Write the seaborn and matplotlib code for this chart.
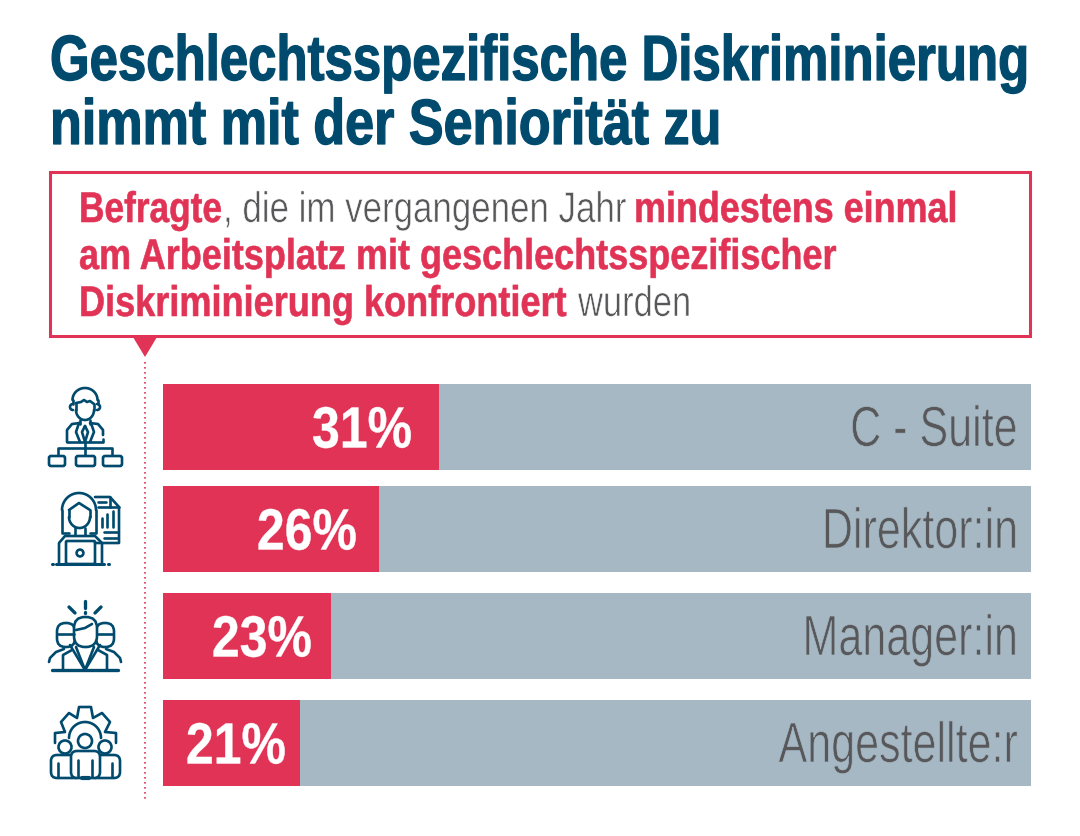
import seaborn as sns
import matplotlib.pyplot as plt
import numpy as np
import pandas as pd
from matplotlib.patches import Polygon, Rectangle, Circle, FancyBboxPatch
from matplotlib.patheffects import AbstractPathEffect
from matplotlib.transforms import Affine2D

# Bar lengths are measured off the picture: they are not to scale with the printed labels
roles = ["C - Suite", "Direktor:in", "Manager:in", "Angestellte:r"]
bar_lengths = [31.85, 24.9, 19.35, 15.8]
value_labels = ["31%", "26%", "23%", "21%"]
track = [100, 100, 100, 100]

title_lines = ["Geschlechtsspezifische Diskriminierung", "nimmt mit der Seniorität zu"]
box_line1 = ["Befragte", ", die im vergangenen Jahr", "mindestens einmal"]
box_line2 = ["am Arbeitsplatz mit geschlechtsspezifischer"]
box_line3 = ["Diskriminierung konfrontiert", "wurden"]

RED = "#e03355"
GREY = "#a5b8c4"
NAVY = "#004a6e"
TEXT = "#58585a"
CAP = 0.688  # cap height of Liberation Sans, per em

sns.set_theme(style="white")
plt.rcParams["font.family"] = ["Liberation Sans", "DejaVu Sans"]

W, H = 1080, 836
fig = plt.figure(figsize=(W / 100, H / 100), dpi=100, facecolor="white")


class Tall(AbstractPathEffect):
    """Stretch glyphs up from the baseline, the fonts here are wider than the original condensed one.
    An outline in the background colour makes the weight lighter, in the text colour heavier."""

    def __init__(self, ky, edge=0, edge_color="white"):
        super().__init__()
        self.ky, self.edge, self.edge_color = ky, edge, edge_color

    def draw_path(self, renderer, gc, tpath, affine, rgbFace=None):
        trans = Affine2D().scale(1, self.ky) + affine
        renderer.draw_path(gc, tpath, trans, rgbFace)
        if self.edge:
            gc0 = renderer.new_gc()
            gc0.copy_properties(gc)
            gc0.set_linewidth(self.edge)
            gc0.set_foreground(self.edge_color)
            renderer.draw_path(gc0, tpath, trans, None)
            gc0.restore()


# overlay in pixels for everything around the bars
ov = fig.add_axes([0, 0, 1, 1], zorder=3)
ov.set_xlim(0, W)
ov.set_ylim(H, 0)
ov.axis("off")
ov.patch.set_alpha(0)
renderer = fig.canvas.get_renderer()


def put(x, base, s, color, size, cap_px, bold=False, ha="left", edge=0, edge_color="white"):
    ky = cap_px / (CAP * size * 100 / 72)
    t = ov.text(x, base, s, color=color, fontsize=size, ha=ha, va="baseline",
                fontweight="bold" if bold else "normal")
    t.set_path_effects([Tall(ky, edge, edge_color)])
    return t


def fit(x0, x1, base, s, color, cap_px, bold=False, edge=0, edge_color="white"):
    # font size that makes the run span x0..x1
    probe = ov.text(0, 0, s, fontsize=30, fontweight="bold" if bold else "normal")
    size = 30 * (x1 - x0) / probe.get_window_extent(renderer).width
    probe.remove()
    return put(x0, base, s, color, size, cap_px, bold=bold, edge=edge, edge_color=edge_color)


# bars, one axes per row because the gaps in the reference are uneven
df = pd.DataFrame({"role": roles, "length": bar_lengths, "track": track})
row_tops = [384, 486, 593, 700]
for i, top in enumerate(row_tops):
    ax = fig.add_axes([163 / W, 1 - (top + 86) / H, 867.5 / W, 86 / H])
    row = df.iloc[[i]]
    sns.barplot(row, x="track", y="role", color=GREY, saturation=1, width=1, linewidth=0, ax=ax)
    sns.barplot(row, x="length", y="role", color=RED, saturation=1, width=1, linewidth=0, ax=ax)
    ax.set_xlim(0, 100)
    ax.axis("off")

value_right = [412, 357, 312, 286]
for label, role, top, right in zip(value_labels, roles, row_tops, value_right):
    put(right, top + 63.5, label, "white", 36, 40, bold=True, ha="right", edge=0.3, edge_color="white")
    put(1017.5, top + 62, role, TEXT, 31, 39, ha="right", edge=0.5, edge_color=GREY)

# title
fit(50, 1030, 80, title_lines[0], NAVY, 44, bold=True, edge=0.9, edge_color=NAVY)
fit(50, 722, 144, title_lines[1], NAVY, 44, bold=True, edge=0.9, edge_color=NAVY)

# callout box
ov.add_patch(Rectangle((50, 172), 980, 164, fill=False, ec=RED, lw=2.2))
ov.add_patch(Polygon([[133, 337], [157, 337], [145, 357]], closed=True, fc=RED, ec="none"))
ov.plot([145, 145], [362, 802], color=RED, lw=1.2, ls=(0, (1, 2)))

fit(79, 222, 222, box_line1[0], RED, 29.5, bold=True, edge=0.4, edge_color=RED)
fit(223, 626, 222, box_line1[1], TEXT, 29.5, edge=0.4)
fit(634, 958, 222, box_line1[2], RED, 29.5, bold=True, edge=0.4, edge_color=RED)
fit(79, 837, 269, box_line2[0], RED, 29.5, bold=True, edge=0.4, edge_color=RED)
fit(79, 567, 316, box_line3[0], RED, 29.5, bold=True, edge=0.4, edge_color=RED)
fit(578, 691, 316, box_line3[1], TEXT, 29.5, edge=0.4)

LW = 1.9


def stroke(pts, lw=LW):
    pts = np.array(pts)
    ov.plot(pts[:, 0], pts[:, 1], color=NAVY, lw=lw, solid_capstyle="round", solid_joinstyle="round")


def arc(cx, cy, rx, ry, a0, a1, lw=LW):
    a = np.deg2rad(np.linspace(a0, a1, 40))
    ov.plot(cx + rx * np.cos(a), cy - ry * np.sin(a), color=NAVY, lw=lw, solid_capstyle="round")


def ring(cx, cy, r, lw=LW, fc="none"):
    ov.add_patch(Circle((cx, cy), r, fc=fc, ec=NAVY, lw=lw))


def box(x, y, w, h, rad=2, lw=LW, fc="none"):
    ov.add_patch(FancyBboxPatch((x + rad, y + rad), w - 2 * rad, h - 2 * rad,
                                boxstyle=f"round,pad={rad}", fc=fc, ec=NAVY, lw=lw))


# C-suite icon
arc(85, 400, 12.5, 12, 0, 180)
stroke([(72.5, 400), (72.5, 404)])
stroke([(97.5, 400), (97.5, 404)])
arc(73, 407, 3, 3, 90, 270)
arc(97, 407, 3, 3, -90, 90)
stroke([(76, 403), (76, 410)])
stroke([(94, 404), (94, 410)])
arc(85, 410, 9, 10, 180, 360)
stroke([(76, 403), (81, 402), (84, 400), (87, 402), (90, 401), (94, 404)])
stroke([(80, 420), (80, 424)])
stroke([(90, 420), (90, 424)])
stroke([(67, 442), (67, 430), (72, 424), (80, 423)])
stroke([(90, 423), (98, 424), (103, 430), (103, 435)])
stroke([(67, 442), (103, 442), (103, 439)])
stroke([(79, 423), (76, 432), (80, 442)])
stroke([(91, 423), (94, 432), (90, 442)])
stroke([(85, 426), (82, 432), (85, 442), (88, 432), (85, 426)])
stroke([(85, 442), (85, 455)])
stroke([(58, 455), (58, 448), (112, 448), (112, 455)])
box(49, 456, 16, 10, rad=2)
box(76, 456, 19, 10, rad=2)
box(103, 456, 19, 10, rad=2)

# Direktor:in icon
stroke([(95, 497), (110, 497), (119, 507), (119, 543), (95, 543)])
stroke([(110, 497), (110, 507), (119, 507)])
stroke([(98, 502), (106, 502)])
stroke([(98, 507), (110, 507)])
stroke([(102, 527), (102, 518)])
stroke([(107, 527), (107, 514)])
stroke([(113, 527), (113, 511)])
stroke([(104, 532), (117, 532)])
stroke([(104, 538), (117, 538)])
arc(79, 510, 17, 17, 0, 180)
stroke([(62, 510), (62, 533), (69, 533)])
stroke([(96, 510), (96, 533), (90, 533)])
stroke([(69, 510), (79, 503), (90, 510)])
stroke([(69, 510), (69, 517)])
stroke([(90, 510), (90, 517)])
arc(79.5, 517, 10.5, 11, 180, 360)
stroke([(75, 528), (75, 535)])
stroke([(85, 528), (85, 535)])
stroke([(59, 563), (59, 543), (65, 536), (95, 536), (102, 543), (102, 563)])
box(66, 541, 29, 23, rad=1, fc="white")
ring(80, 553, 3.4)
stroke([(56, 564), (104, 564)], lw=2.2)
stroke([(51.5, 564), (52.5, 564)], lw=2.2)
stroke([(107.5, 564), (108.5, 564)], lw=2.2)

# Manager:in icon
stroke([(85, 601), (85, 608)], lw=2.4)
stroke([(85, 612), (85, 612.5)], lw=2.4)
stroke([(69, 607), (75, 613)], lw=2.4)
stroke([(101, 607), (95, 613)], lw=2.4)
for cx in [66, 105]:
    ov.add_patch(FancyBboxPatch((cx - 9, 623), 18, 24, boxstyle="round,pad=0,rounding_size=8.5",
                                fc="none", ec=NAVY, lw=LW))
stroke([(58, 634), (74, 634)])
stroke([(97, 634), (113, 634)])
ov.add_patch(FancyBboxPatch((74, 617), 23, 30, boxstyle="round,pad=0,rounding_size=11",
                            fc="white", ec=NAVY, lw=LW))
stroke([(76, 630), (85, 628), (92, 624)])
stroke([(49, 662), (50, 658), (56, 652), (64, 649)])
stroke([(121, 662), (120, 658), (114, 652), (106, 649)])
stroke([(70, 645), (85, 670), (100, 645)])
stroke([(76, 647), (85, 670)])
stroke([(94, 647), (85, 670)])
stroke([(63, 670), (63, 655), (72, 650)])
stroke([(107, 670), (107, 655), (98, 650)])
stroke([(52, 670), (118, 670)], lw=2.4)

# Angestellte:r icon
gear = [(55, 743), (55, 733), (65, 732), (61, 722), (69, 713), (77, 718), (79, 707), (91, 707),
        (93, 718), (102, 713), (110, 722), (105, 732), (116, 733), (116, 743)]
stroke(gear)
arc(85, 738, 16, 16, 0, 180)
ring(85, 741, 7, fc="white")
ring(65, 747, 6.5, fc="white")
ring(105, 747, 6.5, fc="white")
box(51, 755, 30, 23, rad=6, fc="white")
box(90, 755, 30, 23, rad=6, fc="white")
box(71, 751, 29, 27, rad=6, fc="white")
stroke([(58, 763), (58, 777)])
stroke([(112, 763), (112, 777)])
stroke([(78, 760), (78, 777)])
stroke([(92, 760), (92, 777)])
stroke([(82, 778), (89, 778)], lw=3)

fig.savefig("out.png", dpi=100)
